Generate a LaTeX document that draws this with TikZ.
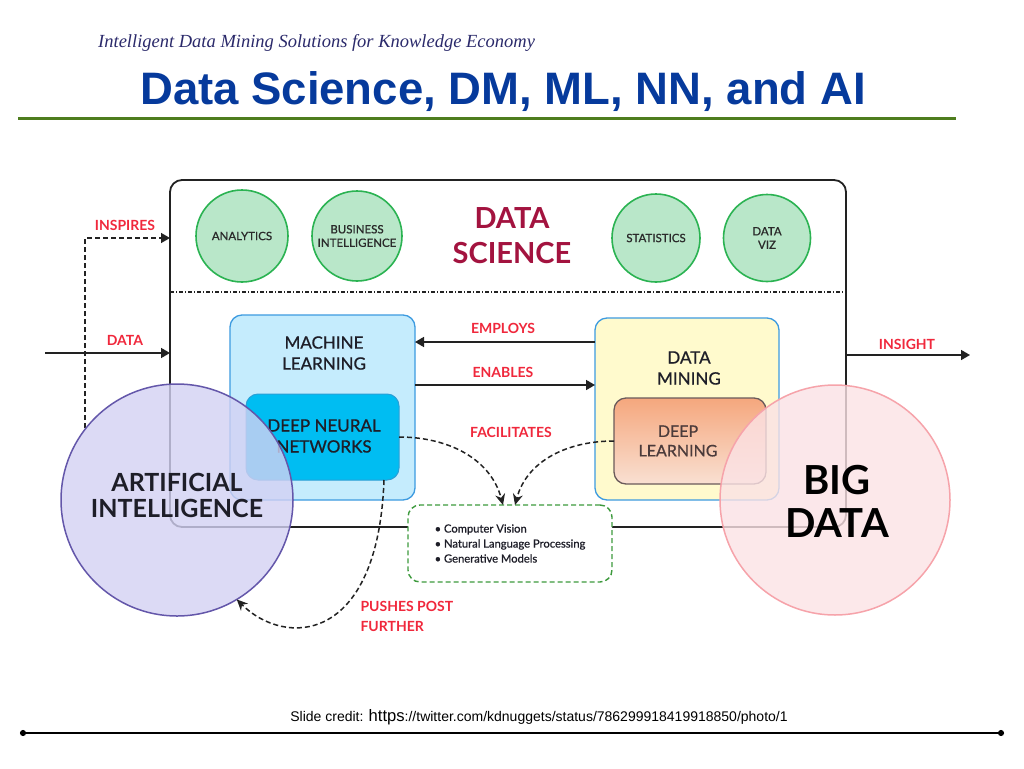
\documentclass[tikz,border=0pt]{standalone}
\usepackage{fontspec}
\setmainfont{Lato}
\newfontfamily\latomed[FakeBold=0.8]{Lato}
\newfontfamily\headserif{Liberation Serif}
\newfontfamily\titlesans{Liberation Sans}
\usetikzlibrary{arrows.meta}

\definecolor{headnavy}{HTML}{2B2A6B}
\definecolor{titleblue}{HTML}{063A9C}
\definecolor{rulegreen}{HTML}{4E7D1E}
\definecolor{boxblack}{HTML}{222222}
\definecolor{topicfill}{HTML}{B9E7C9}
\definecolor{topicedge}{HTML}{2BB352}
\definecolor{topictext}{HTML}{2A2A2A}
\definecolor{dscrimson}{HTML}{A3133F}
\definecolor{verbred}{HTML}{F0283C}
\definecolor{labeltext}{HTML}{1E1E28}
\definecolor{mlfill}{HTML}{C5ECFD}
\definecolor{mledge}{HTML}{3D9BE0}
\definecolor{dnnfill}{HTML}{00BDF2}
\definecolor{dnnedge}{HTML}{2A9FD6}
\definecolor{dmfill}{HTML}{FFFACD}
\definecolor{dltop}{HTML}{F5A77D}
\definecolor{dlbottom}{HTML}{F9E0D2}
\definecolor{dledge}{HTML}{6A5A5A}
\definecolor{dltext}{HTML}{4B3B3B}
\definecolor{listgreen}{HTML}{3D9A3D}
\definecolor{aifill}{HTML}{D3D1F3}
\definecolor{aiedge}{HTML}{6457AA}
\definecolor{bdfill}{HTML}{FBE2E5}
\definecolor{bdedge}{HTML}{F6A3AA}

\begin{document}
\begin{tikzpicture}[x=1pt,y=-1pt,
  panel/.style={draw, rounded corners=12pt, inner sep=0pt, outer sep=0pt},
  topic/.style={circle, draw=topicedge, fill=topicfill, line width=1.6pt, inner sep=0pt, align=center, text=topictext, font=\latomed\fontsize{11.5}{13.5}\selectfont},
  boxtext/.style={align=center, text=labeltext, font=\latomed\fontsize{17}{21}\selectfont},
  verb/.style={text=verbred, align=center, font=\bfseries\fontsize{14}{20}\selectfont},
  solidarr/.style={line width=1.6pt, boxblack, -{Triangle[length=9pt,width=10pt]}},
  dasharr/.style={line width=1.5pt, boxblack, dash pattern=on 5pt off 3pt, -{Stealth[length=11pt,width=10pt]}},
  bubble/.style={circle, line width=1.5pt, fill opacity=0.8, inner sep=0pt, outer sep=0pt}]

	\useasboundingbox (0,0) rectangle (1024,768);

	% header
	\node[anchor=base west, inner sep=0pt, text=headnavy, font=\headserif\itshape\fontsize{18.5}{20}\selectfont] (subtitle) at (98,48) {Intelligent Data Mining Solutions for Knowledge Economy};
	\node[anchor=base, inner sep=0pt, text=titleblue, font=\titlesans\bfseries\fontsize{45.5}{50}\selectfont] (title) at (503,104) {Data Science, DM, ML, NN, and AI};
	\draw[rulegreen, line width=3pt] (18,118) -- (956,118);

	% data science frame
	\node[panel, draw=boxblack, fill=white, line width=1.8pt, minimum width=676pt, minimum height=347pt] (ds) at (508,353.5) {};
	\draw[boxblack, line width=1.3pt, dash pattern=on 4pt off 2pt on 1pt off 2pt] ([yshift=-112pt]ds.north west) -- ([yshift=-112pt]ds.north east);

	\node[topic, minimum size=92pt] (analytics) at (242,236) {ANALYTICS};
	\node[topic, minimum size=90pt] (bi) at (357,236) {BUSINESS\\INTELLIGENCE};
	\node[topic, minimum size=88pt] (stats) at (656,238) {STATISTICS};
	\node[topic, minimum size=87pt] (viz) at (767,238) {DATA\\VIZ};
	\node[align=center, text=dscrimson, font=\bfseries\fontsize{29}{35}\selectfont] (dstext) at (512,236) {DATA\\SCIENCE};

	% ML and DM boxes
	\node[panel, draw=mledge, fill=mlfill, line width=1.3pt, minimum width=185pt, minimum height=185pt] (ml) at (322.5,407.5) {};
	\node[panel, draw=dnnedge, fill=dnnfill, line width=1pt, minimum width=153pt, minimum height=86pt] (dnn) at (322.5,437) {};
	\node[panel, draw=mledge, fill=dmfill, line width=1.3pt, minimum width=184pt, minimum height=182pt] (dm) at (687,409) {};
	\node[panel, draw=dledge, top color=dltop, bottom color=dlbottom, line width=1.3pt, minimum width=152pt, minimum height=86pt] (dl) at (690,441) {};

	\node[boxtext] (mltext) at (324,353) {MACHINE\\LEARNING};
	\node[boxtext] (dnntext) at (324,436) {DEEP NEURAL\\NETWORKS};
	\node[boxtext] (dmtext) at (689,368) {DATA\\MINING};
	\node[boxtext, text=dltext, font=\latomed\fontsize{16}{19.5}\selectfont] (dltext) at (678,441) {DEEP\\LEARNING};

	\draw[solidarr] ([yshift=-24pt]dm.north west) coordinate (empFrom) -- (empFrom -| ml.east);
	\draw[solidarr] ([yshift=-70pt]ml.north east) coordinate (enaFrom) -- (enaFrom -| dm.west);
	\node[verb] (employs) at (503,328) {EMPLOYS};
	\node[verb] (enables) at (503,372) {ENABLES};
	\node[verb] (facil) at (511,432) {FACILITATES};

	% applications
	\node[panel, draw=listgreen, fill=white, line width=1.4pt, dash pattern=on 5pt off 3pt, minimum width=204pt, minimum height=77pt, align=left, text=labeltext, font=\latomed\fontsize{11.2}{15}\selectfont] (apps) at (510,543.5) {• Computer Vision\\• Natural Language Processing\\• Generative Models};

	\draw[dasharr] (dnn.east) to[out=0, in=105] ([xshift=-7pt]apps.north);
	\draw[dasharr] (dl.west) to[out=180, in=75] ([xshift=5pt]apps.north);

	% inputs and output
	\coordinate (inspFoot) at (85,428);
	\draw[line width=1.4pt, boxblack, dash pattern=on 5pt off 3pt, -{Triangle[length=9pt,width=10pt]}] (inspFoot) |- ([yshift=-58pt]ds.north west);
	\node[verb] (inspires) at (125,225) {INSPIRES};

	\coordinate (dataIn) at (45,353);
	\draw[solidarr] (dataIn) -- (dataIn -| ds.west);
	\node[verb] (datalbl) at (125,340) {DATA};

	\coordinate (insightOut) at (970,355);
	\draw[solidarr] (insightOut -| ds.east) -- (insightOut);
	\node[verb] (insight) at (907,344) {INSIGHT};

	% AI and big data
	\node[bubble, draw=aiedge, fill=aifill, minimum size=232pt] (ai) at (177,500) {};
	\node[bubble, draw=bdedge, fill=bdfill, minimum size=230pt] (bd) at (835,500) {};
	\node[align=center, text=labeltext, font=\bfseries\fontsize{25}{26}\selectfont] (aitext) at (177,495) {ARTIFICIAL\\INTELLIGENCE};
	\node[align=center, text=black, font=\bfseries\fontsize{40}{43}\selectfont] (bdtext) at (837,501) {BIG\\DATA};

	\draw[dasharr] ([xshift=-15pt]dnn.south east) .. controls +(-6,165) and +(48,48) .. (ai.-59.5);
	\node[verb, align=left, anchor=west] (pushes) at (357,616) {PUSHES POST\\FURTHER};

	% footer
	\node[anchor=base, inner sep=0pt, font=\titlesans\fontsize{14}{16}\selectfont] (credit) at (539,721) {Slide credit: {\fontsize{16.6}{18}\selectfont https}://twitter.com/kdnuggets/status/786299918419918850/photo/1};
	\coordinate (footL) at (20,733);
	\coordinate (footR) at (1004,733);
	\draw[line width=2pt, {Circle[length=6pt]}-{Circle[length=6pt]}] (footL) -- (footR);

\end{tikzpicture}
\end{document}
